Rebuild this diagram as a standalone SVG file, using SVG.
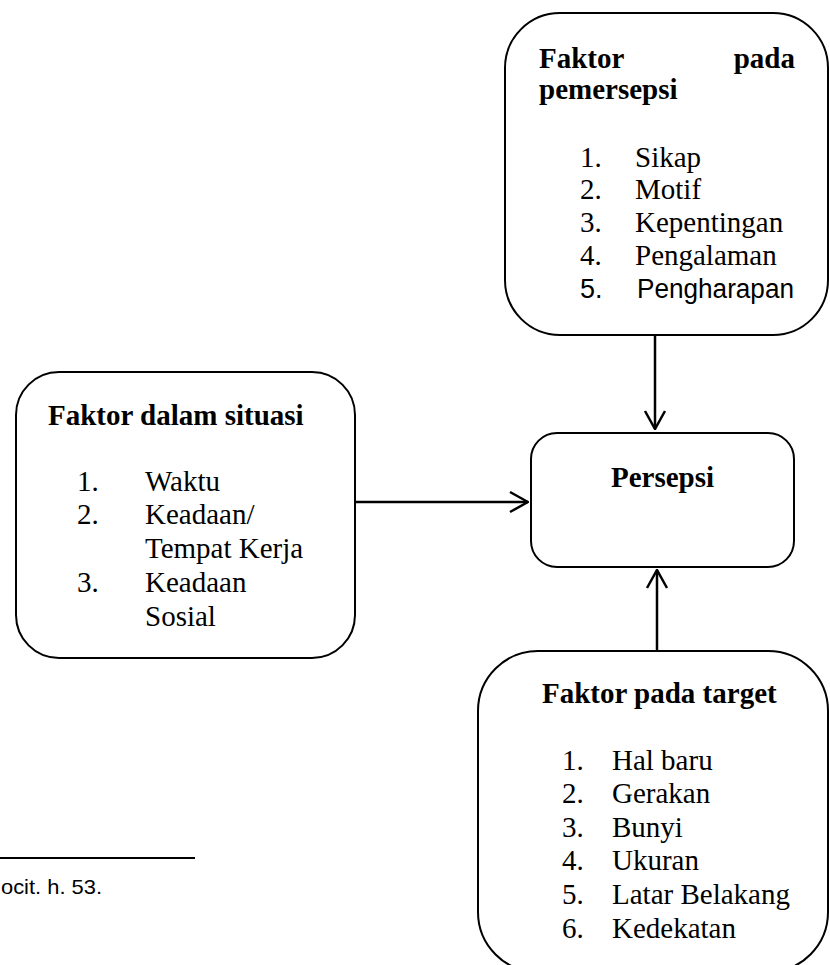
<svg xmlns="http://www.w3.org/2000/svg" width="830" height="965" viewBox="0 0 830 965">
<style>
.box{fill:#fff;stroke:#000;stroke-width:2}
.h{font-family:"Liberation Serif","Times New Roman",serif;font-weight:bold;font-size:29px;fill:#000}
.t{font-family:"Liberation Serif","Times New Roman",serif;font-size:29px;fill:#000}
.s{font-family:"Liberation Sans",Arial,sans-serif;font-size:27px;fill:#000}
.c{stroke:#000;stroke-width:2.5;fill:none}
</style>
<defs>
<marker id="arr" viewBox="0 0 20 24" refX="19" refY="12" markerWidth="20" markerHeight="24" markerUnits="userSpaceOnUse" orient="auto">
<path d="M1,2 L19,12 L1,22" fill="none" stroke="#000" stroke-width="2.5"/>
</marker>
</defs>
<rect width="830" height="965" fill="#fff"/>
<g id="connectors">
<line class="c" x1="655" y1="335" x2="655" y2="429" marker-end="url(#arr)"/>
<line class="c" x1="355" y1="502" x2="528" y2="502" marker-end="url(#arr)"/>
<line class="c" x1="657" y1="651" x2="657" y2="570" marker-end="url(#arr)"/>
</g>
<g id="node-pemersepsi">
<rect class="box" x="505" y="13" width="323" height="322" rx="55" ry="55"/>
<text class="h" x="539" y="68">Faktor</text>
<text class="h" x="795" y="68" text-anchor="end">pada</text>
<text class="h" x="539" y="99">pemersepsi</text>
<text class="t" x="580" y="167">1.</text><text class="t" x="635" y="167">Sikap</text>
<text class="t" x="580" y="199">2.</text><text class="t" x="635" y="199">Motif</text>
<text class="t" x="580" y="232">3.</text><text class="t" x="635" y="232">Kepentingan</text>
<text class="t" x="580" y="265">4.</text><text class="t" x="635" y="265">Pengalaman</text>
<text class="s" x="580" y="298">5.</text><text class="s" x="637" y="298" textLength="157" lengthAdjust="spacingAndGlyphs">Pengharapan</text>
</g>
<g id="node-situasi">
<rect class="box" x="16" y="372" width="339" height="286" rx="43" ry="43"/>
<text class="h" x="48" y="425">Faktor dalam situasi</text>
<text class="t" x="77" y="491">1.</text><text class="t" x="145" y="491">Waktu</text>
<text class="t" x="77" y="524">2.</text><text class="t" x="145" y="524">Keadaan/</text>
<text class="t" x="145" y="558">Tempat Kerja</text>
<text class="t" x="77" y="592">3.</text><text class="t" x="145" y="592">Keadaan</text>
<text class="t" x="145" y="626">Sosial</text>
</g>
<g id="node-persepsi">
<rect class="box" x="531" y="433" width="263" height="134" rx="26" ry="26"/>
<text class="h" x="662.5" y="487" text-anchor="middle">Persepsi</text>
</g>
<g id="node-target">
<rect class="box" x="478" y="651" width="350" height="321" rx="60" ry="60"/>
<text class="h" x="542" y="703">Faktor pada target</text>
<text class="t" x="562" y="770">1.</text><text class="t" x="612" y="770">Hal baru</text>
<text class="t" x="562" y="803">2.</text><text class="t" x="612" y="803">Gerakan</text>
<text class="t" x="562" y="837">3.</text><text class="t" x="612" y="837">Bunyi</text>
<text class="t" x="562" y="870">4.</text><text class="t" x="612" y="870">Ukuran</text>
<text class="t" x="562" y="904">5.</text><text class="t" x="612" y="904">Latar Belakang</text>
<text class="t" x="562" y="938">6.</text><text class="t" x="612" y="938">Kedekatan</text>
</g>
<g id="footnote">
<line x1="0" y1="858" x2="195" y2="858" stroke="#000" stroke-width="2"/>
<text x="1" y="894" font-family="'Liberation Sans',Arial,sans-serif" font-size="21" textLength="101" lengthAdjust="spacingAndGlyphs" fill="#000">ocit. h. 53.</text>
</g>
</svg>
